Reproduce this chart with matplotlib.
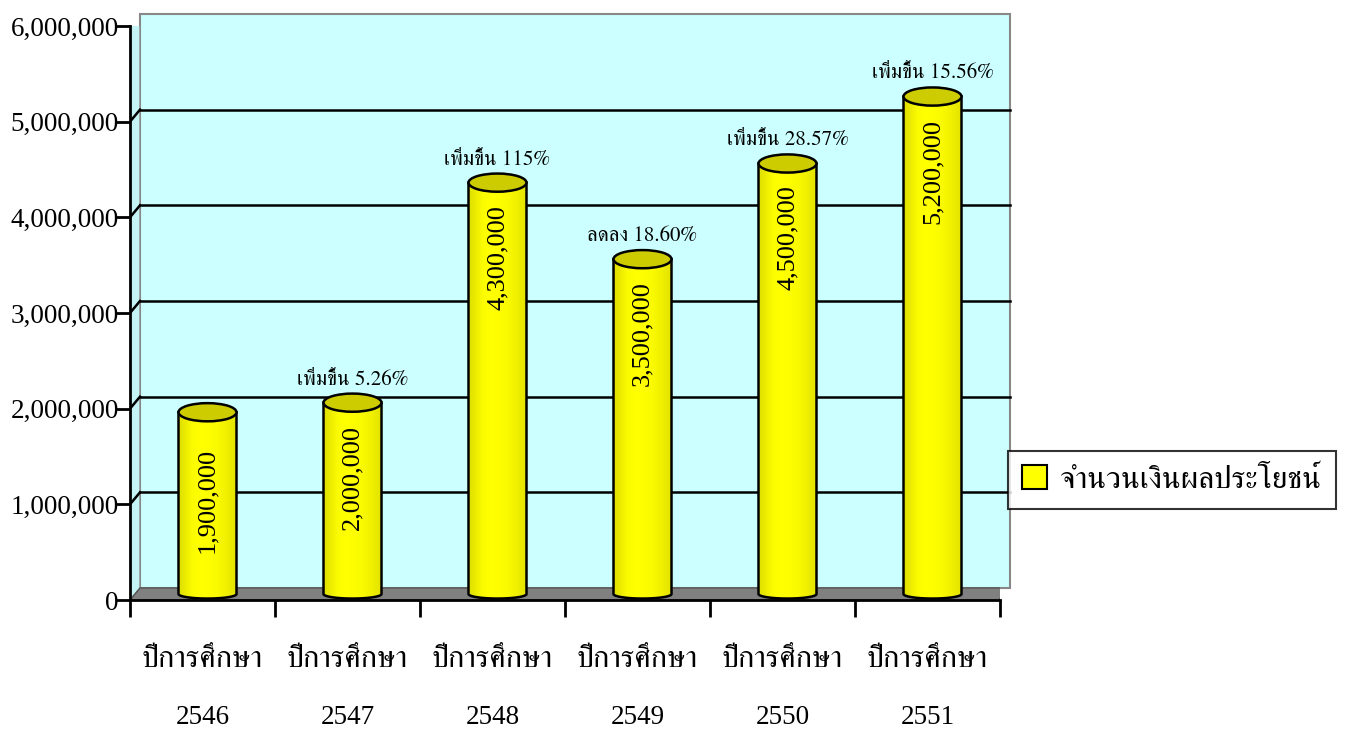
import numpy as np
import matplotlib
matplotlib.use("Agg")
import matplotlib.pyplot as plt
from matplotlib import font_manager
from matplotlib.ft2font import FT2Font
from matplotlib.patches import Polygon, Ellipse, PathPatch, Rectangle
from matplotlib.path import Path
from matplotlib.transforms import offset_copy
from matplotlib.colors import LinearSegmentedColormap

# data
years = ["2546", "2547", "2548", "2549", "2550", "2551"]
amounts = [1900000, 2000000, 4300000, 3500000, 4500000, 5200000]
changes = ["", "เพิ่มขึ้น 5.26%", "เพิ่มขึ้น 115%", "ลดลง 18.60%",
           "เพิ่มขึ้น 28.57%", "เพิ่มขึ้น 15.56%"]
cat_label = "ปีการศึกษา"
legend_label = "จำนวนเงินผลประโยชน์"
yticks = [0, 1000000, 2000000, 3000000, 4000000, 5000000, 6000000]


# find an installed font that has Thai glyphs (prefer serif ones)
def thai_fonts():
    found = []
    seen = set()
    for f in font_manager.fontManager.ttflist:
        if f.fname in seen:
            continue
        seen.add(f.fname)
        try:
            cmap = FT2Font(f.fname).get_charmap()
        except Exception:
            continue
        if 0x0E1B in cmap and 0x0E35 in cmap:
            found.append(f.name)
    return sorted(set(found))


thai = thai_fonts()
serif = "Liberation Serif"
pick = None
for name in ["Norasi", "FreeSerif", "Laksaman", "Garuda"]:
    if name in thai:
        pick = name
        break
if pick is None and thai:
    pick = thai[0]
tfam = [pick, serif] if pick else [serif]

fig = plt.figure(figsize=(13.52, 7.31), dpi=100)
ax = fig.add_axes([130 / 1352, 131 / 731, 870 / 1352, 574 / 731])
ax.set_xlim(0, 6)
ax.set_ylim(0, 6000000)
ax.patch.set_visible(False)

back = offset_copy(ax.transData, fig, x=10, y=12, units="dots")
mid = offset_copy(ax.transData, fig, x=5, y=6, units="dots")
fwd = ax.transData
top = yticks[-1]

# back wall, left wall, floor
ax.add_patch(Polygon([(0, 0), (6, 0), (6, top), (0, top)], closed=True,
                     facecolor="#ccffff", edgecolor="#888888", lw=1.5,
                     transform=back, zorder=0, clip_on=False))
left_pts = [fwd.transform((0, 0)), fwd.transform((0, top)),
            back.transform((0, top)), back.transform((0, 0))]
ax.add_patch(Polygon(left_pts, closed=True, facecolor="#c4f4f4",
                     edgecolor="#888888", lw=1, transform=None, zorder=0))
floor_pts = [fwd.transform((0, 0)), fwd.transform((6, 0)),
             back.transform((6, 0)), back.transform((0, 0))]
ax.add_patch(Polygon(floor_pts, closed=True, facecolor="#808080",
                     edgecolor="#555555", lw=1, transform=None, zorder=1))

# gridlines on the back wall + diagonals on the left wall
for v in yticks[1:]:
    if v < top:
        ax.plot([0, 6], [v, v], color="black", lw=1.8, transform=back,
                zorder=1, clip_on=False)
    p0 = fwd.transform((0, v))
    p1 = back.transform((0, v))
    ax.plot([p0[0], p1[0]], [p0[1], p1[1]], color="black", lw=1.8,
            transform=None, zorder=1)
# right floor edge
p0 = fwd.transform((6, 0))
p1 = back.transform((6, 0))
ax.plot([p0[0], p1[0]], [p0[1], p1[1]], color="black", lw=1.8,
        transform=None, zorder=2)

# cylinders
x = np.arange(len(years)) + 0.5
bw = 0.4
ax.bar(x, amounts, width=bw, transform=mid, color="none",
       edgecolor="none", zorder=3, clip_on=False)
eh = 190000  # ellipse height in data units
grad = np.array([[0.55, 0.9, 1.0, 1.0, 0.97, 0.9, 0.8, 0.6]])
cmap = LinearSegmentedColormap.from_list("cyl", ["#a0a000", "#dede00", "#ffff00"])
t = np.linspace(np.pi, 2 * np.pi, 40)
for xc, v, lab in zip(x, amounts, changes):
    x0, x1 = xc - bw / 2, xc + bw / 2
    bx = xc + (bw / 2) * np.cos(t)
    by = (eh / 2) * np.sin(t) * 0.5
    verts = [(x0, v)] + list(zip(bx, by)) + [(x1, v), (x0, v)]
    codes = [Path.MOVETO] + [Path.LINETO] * (len(verts) - 2) + [Path.CLOSEPOLY]
    body = PathPatch(Path(verts, codes), facecolor="none", edgecolor="black",
                     lw=1.8, transform=mid, zorder=4, clip_on=False)
    ax.add_patch(body)
    im = ax.imshow(grad, cmap=cmap, vmin=0, vmax=1, aspect="auto",
                   extent=(x0, x1, -eh, v), transform=mid, zorder=3,
                   interpolation="bicubic")
    im.set_clip_path(body)
    ax.add_patch(Ellipse((xc, v), bw, eh, facecolor="#cccc00",
                         edgecolor="black", lw=1.8, transform=mid, zorder=5,
                         clip_on=False))
    # short bars get the value centred, taller ones at the inside end
    if v < 2000000:
        ax.text(xc, v / 2 + 30000, f"{v:,}", rotation=90, ha="center",
                va="center", fontsize=19, family=serif, transform=mid, zorder=6)
    else:
        ax.text(xc, v - 230000, f"{v:,}", rotation=90, ha="center", va="top",
                fontsize=19, family=serif, transform=mid, zorder=6)
    if lab:
        ax.text(xc, v + 240000, lab, ha="center", va="center", fontsize=15,
                family=tfam, transform=mid, zorder=6)

ax.set_xlim(0, 6)
ax.set_ylim(0, 6000000)

# axes
for s in ["top", "right"]:
    ax.spines[s].set_visible(False)
for s in ["left", "bottom"]:
    ax.spines[s].set_linewidth(2)
    ax.spines[s].set_zorder(7)
ax.set_yticks(yticks)
ax.set_yticklabels([f"{v:,}" for v in yticks], family=serif, fontsize=19.5)
ax.set_xticks(range(7))
ax.set_xticklabels([])
ax.tick_params(axis="y", direction="out", length=10, width=2, pad=-2)
ax.tick_params(axis="x", direction="out", length=12, width=2)
for xc, yr in zip(x, years):
    ax.text(xc, -0.105, cat_label, ha="center", va="center", fontsize=22,
            family=tfam, transform=ax.get_xaxis_transform())
    ax.text(xc, -0.205, yr, ha="center", va="center", fontsize=19.5,
            family=serif, transform=ax.get_xaxis_transform())

# legend
leg = fig.legend([Rectangle((0, 0), 1, 1, facecolor="#ffff00", edgecolor="black", lw=1.5)],
                 [legend_label], loc="center left",
                 bbox_to_anchor=(1008 / 1352, (731 - 480) / 731),
                 prop={"family": tfam, "size": 22.5}, frameon=True,
                 fancybox=False, edgecolor="black", handlelength=0.8,
                 handleheight=0.8, borderpad=0.45, handletextpad=0.4,
                 borderaxespad=0)
leg.get_frame().set_linewidth(1.5)

fig.savefig("out.png", dpi=100)
